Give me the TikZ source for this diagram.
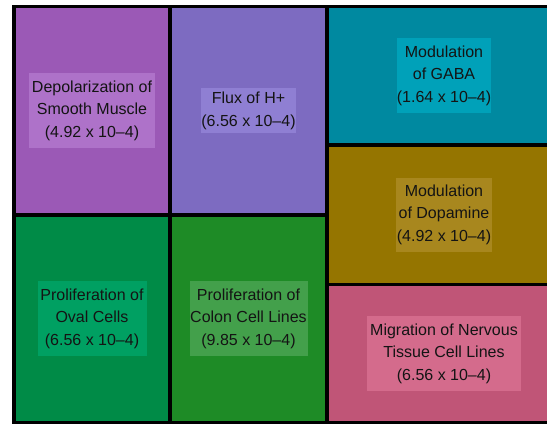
\documentclass[tikz,border=0pt]{standalone}
\usepackage{fontspec}
\setmainfont{Liberation Sans}
\definecolor{cpurple}{HTML}{9B59B6}
\definecolor{lpurple}{HTML}{AE72C9}
\definecolor{cviolet}{HTML}{7D6BC1}
\definecolor{lviolet}{HTML}{8F7FD3}
\definecolor{cteal}{HTML}{0089A0}
\definecolor{lteal}{HTML}{00A1B9}
\definecolor{cgold}{HTML}{957500}
\definecolor{lgold}{HTML}{A8871E}
\definecolor{cpink}{HTML}{C05577}
\definecolor{lpink}{HTML}{D46B8C}
\definecolor{cgreena}{HTML}{008B47}
\definecolor{lgreena}{HTML}{00A062}
\definecolor{cgreenb}{HTML}{1E8B26}
\definecolor{lgreenb}{HTML}{43A04B}
\begin{document}
\begin{tikzpicture}[x=1pt,y=-1pt,
  cell/.style={draw=black,line width=3.4pt,inner sep=0pt,outer sep=0pt},
  lbl/.style={inner sep=0pt,outer sep=0pt,align=center,text=black!92,
    font=\fontsize{16}{22.5}\selectfont}]
\useasboundingbox (0,0) rectangle (547,425);
\clip (0,0) rectangle (547,425);
% cells
\node[cell,fill=cpurple,minimum width=156pt,minimum height=208.3pt] (c1) at (92,110.85) {};
\node[cell,fill=cviolet,minimum width=157pt,minimum height=208.3pt] (c2) at (248.5,110.85) {};
\node[cell,fill=cgreena,minimum width=156pt,minimum height=207.5pt] (c3) at (92,318.75) {};
\node[cell,fill=cgreenb,minimum width=157pt,minimum height=207.5pt] (c4) at (248.5,318.75) {};
\node[cell,fill=cteal,minimum width=234pt,minimum height=138.3pt] (c5) at (444,75.85) {};
\node[cell,fill=cgold,minimum width=234pt,minimum height=139.3pt] (c6) at (444,214.65) {};
\node[cell,fill=cpink,minimum width=234pt,minimum height=138.2pt] (c7) at (444,353.4) {};
% labels
\node[lbl,fill=lpurple,minimum width=126pt,minimum height=75pt] (t1) at (c1.center) {Depolarization of\\Smooth Muscle\\(4.92 x 10–4)};
\node[lbl,fill=lviolet,minimum width=92pt,minimum height=44.7pt] (t2) at (c2.center) {Flux of H+\\(6.56 x 10–4)};
\node[lbl,fill=lgreena,minimum width=109pt,minimum height=75pt] (t3) at (c3.center) {Proliferation of\\Oval Cells\\(6.56 x 10–4)};
\node[lbl,fill=lgreenb,minimum width=118pt,minimum height=75pt] (t4) at (c4.center) {Proliferation of\\Colon Cell Lines\\(9.85 x 10–4)};
\node[lbl,fill=lteal,minimum width=92.3pt,minimum height=75pt] (t5) at (c5.center) {Modulation\\of GABA\\(1.64 x 10–4)};
\node[lbl,fill=lgold,minimum width=96.7pt,minimum height=74pt] (t6) at (c6.center) {Modulation\\of Dopamine\\(4.92 x 10–4)};
\node[lbl,fill=lpink,minimum width=154pt,minimum height=75pt] (t7) at (c7.center) {Migration of Nervous\\Tissue Cell Lines\\(6.56 x 10–4)};
\end{tikzpicture}
\end{document}
